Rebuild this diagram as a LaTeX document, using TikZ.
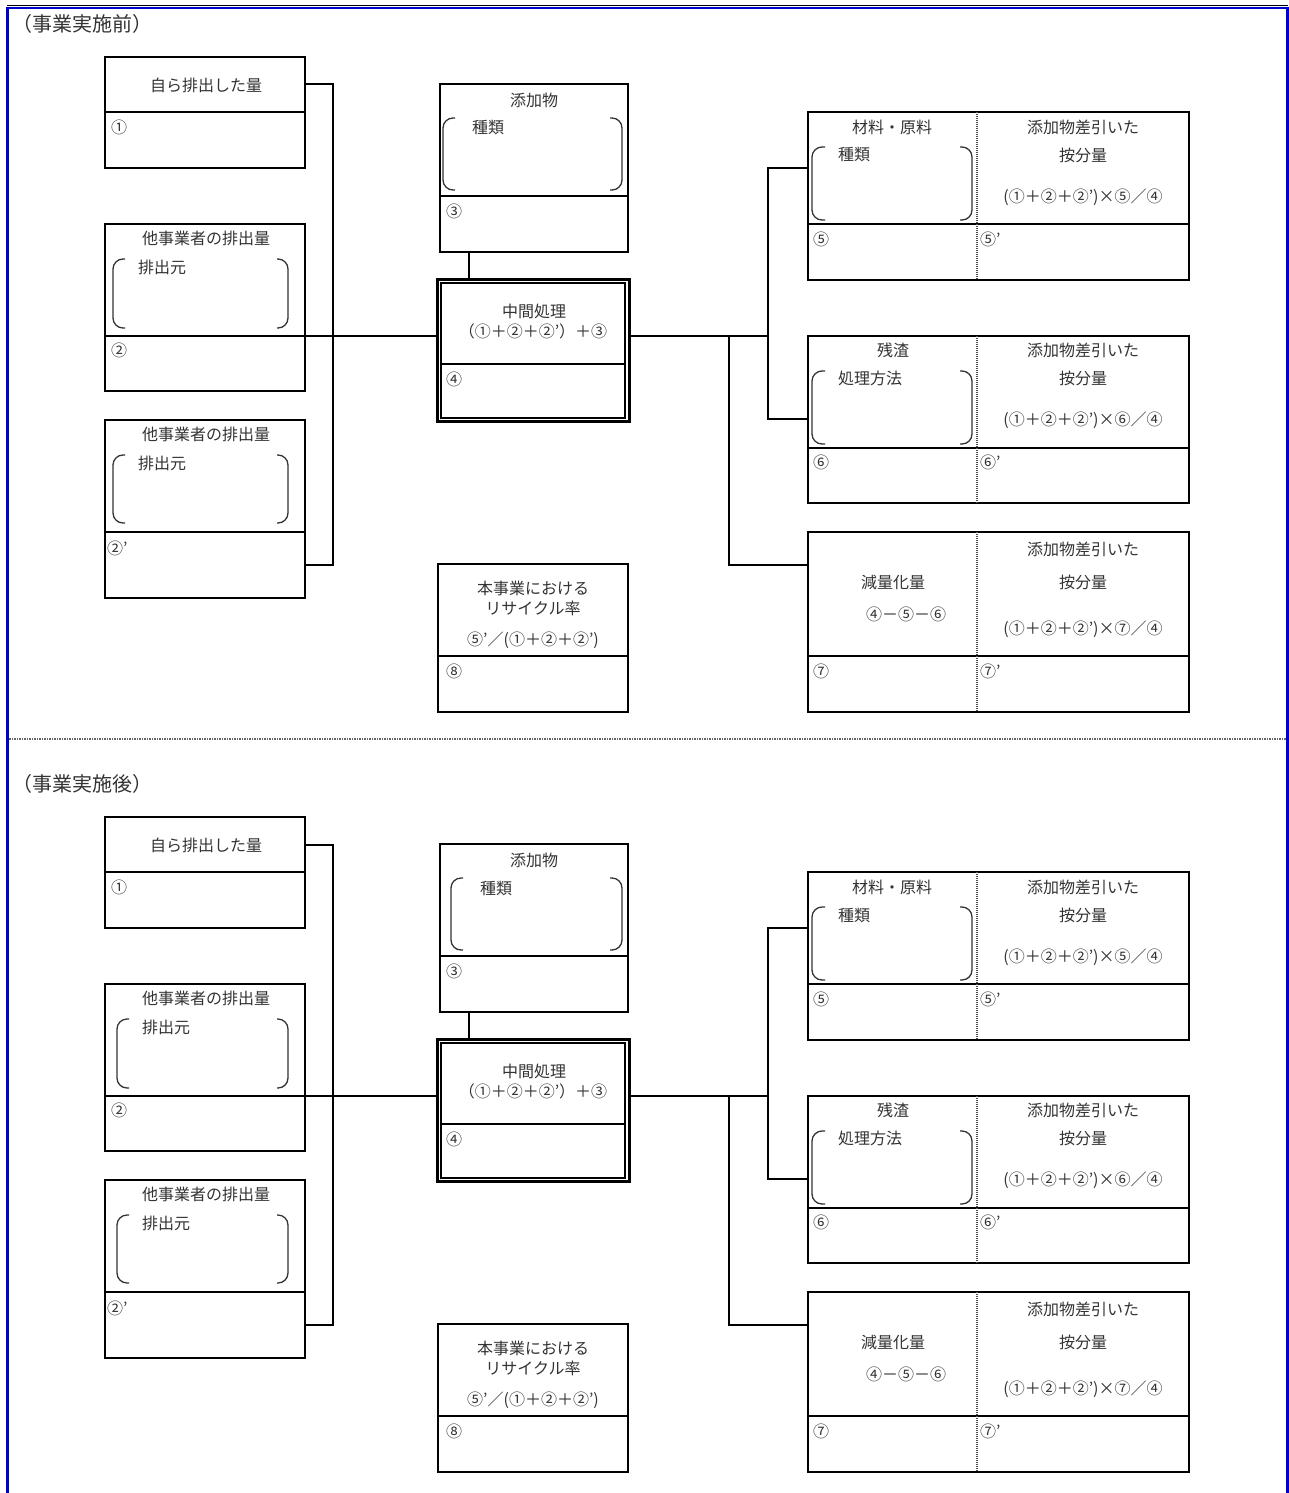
\documentclass[tikz,border=0pt]{standalone}
\usepackage{fontspec}
\newfontfamily\cjk{Noto Sans CJK JP}
\usetikzlibrary{calc}
\definecolor{frameblue}{RGB}{0,0,204}
\tikzset{
 cell/.style={draw=black, line width=2.2pt, anchor=north west, inner sep=0pt, outer sep=0pt},
 conn/.style={draw=black, line width=2pt},
 txt/.style={font=\cjk\fontsize{16}{18}\selectfont, inner sep=0pt, text=black!80},
 lbl/.style={txt, anchor=west},
 ttl/.style={font=\cjk\fontsize{20}{22}\selectfont, inner sep=0pt, text=black!80, anchor=west},
 brk/.style={draw=black!80, line width=1.3pt, rounded corners=10pt},
 vdots/.style={draw=black!70, line width=2pt, dash pattern=on 1pt off 1pt},
}
\newcommand\cellat[5]{\node[cell, minimum width=#4pt, minimum height=#5pt] (#1) at (#2,#3) {};}
% #1 suffix, #2 yshift, #3 title, #4 D bracket shift, #5 B/C bracket shift
\newcommand\drawsec[5]{%
\begin{scope}[yshift=#2pt]
\node[ttl] (title#1) at (12,24) {#3};
% left boxes
\cellat{A1#1}{105}{57}{200}{55}
\cellat{A2#1}{105}{112}{200}{56}
\cellat{B1#1}{105}{224}{200}{112}
\cellat{B2#1}{105}{336}{200}{55}
\cellat{C1#1}{105}{420}{200}{112}
\cellat{C2#1}{105}{532}{200}{66}
% additive
\cellat{D1#1}{440}{84}{188}{112}
\cellat{D2#1}{440}{196}{188}{56}
% intermediate processing (double border)
\node[cell, line width=3pt, minimum width=192pt, minimum height=142pt] (E#1) at (437,279) {};
\node[cell, line width=1.2pt, minimum width=184pt, minimum height=81pt] (E1#1) at (441,283) {};
\node[cell, line width=1.2pt, minimum width=184pt, minimum height=54pt] (E2#1) at (441,364) {};
% right boxes
\cellat{F1#1}{808}{112}{381}{112}
\cellat{F2#1}{808}{224}{381}{56}
\cellat{G1#1}{808}{336}{381}{112}
\cellat{G2#1}{808}{448}{381}{55}
\cellat{H1#1}{808}{532}{381}{124}
\cellat{H2#1}{808}{656}{381}{56}
% recycle rate
\cellat{I1#1}{438}{564}{190}{92}
\cellat{I2#1}{438}{656}{190}{56}
% dotted dividers
\draw[vdots] ([xshift=169pt]F1#1.north west) -- ([xshift=169pt]F2#1.south west);
\draw[vdots] ([xshift=169pt]G1#1.north west) -- ([xshift=169pt]G2#1.south west);
\draw[vdots] ([xshift=169pt]H1#1.north west) -- ([xshift=169pt]H2#1.south west);
% connectors
\coordinate (LJ#1) at (333,336);
\draw[conn] (A1#1.east) -| (LJ#1) |- (C2#1.east);
\draw[conn] (B1#1.south east) -- (B1#1.south east -| E#1.west);
\coordinate (DJ#1) at (469,252);
\draw[conn] (DJ#1) -- (DJ#1 |- E#1.north);
\coordinate (RJ#1) at (768,336);
\coordinate (SJ#1) at (729,336);
\coordinate (GJ#1) at (808,419);
\coordinate (HJ#1) at (808,565);
\draw[conn] (E#1.east |- RJ#1) -- (RJ#1);
\draw[conn] (F1#1.west) -| (RJ#1) |- (GJ#1);
\draw[conn] (SJ#1) |- (HJ#1);
% brackets
\draw[brk] (125+#5,259) -| (113+#5,328) -- (125+#5,328);
\draw[brk] (277,259) -| (288,328) -- (277,328);
\draw[brk] (125+#5,455) -| (113+#5,523) -- (125+#5,523);
\draw[brk] (277,455) -| (288,523) -- (277,523);
\draw[brk] (455+#4,118) -| (443+#4,190) -- (455+#4,190);
\draw[brk] (610,118) -| (622,190) -- (610,190);
\draw[brk] (825,147) -| (812,220) -- (825,220);
\draw[brk] (960,147) -| (972,220) -- (960,220);
\draw[brk] (825,371) -| (812,444) -- (825,444);
\draw[brk] (960,371) -| (972,444) -- (960,444);
% texts left
\node[txt] (tA#1) at (206,85) {自ら排出した量};
\node[lbl] (nA#1) at (111,127) {①};
\node[txt] (tB#1) at (206,238) {他事業者の排出量};
\node[lbl] (sB#1) at (138+#5,267) {排出元};
\node[lbl] (nB#1) at (111,350) {②};
\node[txt] (tC#1) at (206,434) {他事業者の排出量};
\node[lbl] (sC#1) at (138+#5,463) {排出元};
\node[lbl] (nC#1) at (107,548) {②’};
% texts center
\node[txt] (tD#1) at (534,100) {添加物};
\node[lbl] (sD#1) at (472+#4,128) {種類};
\node[lbl] (nD#1) at (446,211) {③};
\node[txt] (tE#1) at (534,311) {中間処理};
\node[txt] (fE#1) at (533,331) {（①＋②＋②’）＋③};
\node[lbl] (nE#1) at (446,379) {④};
\node[txt] (tI#1) at (533,588) {本事業における};
\node[txt] (uI#1) at (533,608) {リサイクル率};
\node[txt] (fI#1) at (533,640) {⑤’／(①＋②＋②’)};
\node[lbl] (nI#1) at (446,671) {⑧};
% texts right
\node[txt] (tF#1) at (892,127) {材料・原料};
\node[lbl] (sF#1) at (838,155) {種類};
\node[txt] (aF#1) at (1083,127) {添加物差引いた};
\node[txt] (bF#1) at (1083,155) {按分量};
\node[txt] (fF#1) at (1083,197) {(①＋②＋②’)×⑤／④};
\node[lbl] (nF#1) at (813,239) {⑤};
\node[lbl] (mF#1) at (980,239) {⑤’};
\node[txt] (tG#1) at (893,350) {残渣};
\node[lbl] (sG#1) at (838,378) {処理方法};
\node[txt] (aG#1) at (1083,350) {添加物差引いた};
\node[txt] (bG#1) at (1083,378) {按分量};
\node[txt] (fG#1) at (1083,420) {(①＋②＋②’)×⑥／④};
\node[lbl] (nG#1) at (813,462) {⑥};
\node[lbl] (mG#1) at (980,462) {⑥’};
\node[txt] (tH#1) at (893,582) {減量化量};
\node[txt] (sH#1) at (906,614) {④－⑤－⑥};
\node[txt] (aH#1) at (1083,549) {添加物差引いた};
\node[txt] (bH#1) at (1083,582) {按分量};
\node[txt] (fH#1) at (1083,629) {(①＋②＋②’)×⑦／④};
\node[lbl] (nH#1) at (813,671) {⑦};
\node[lbl] (mH#1) at (980,671) {⑦’};
\end{scope}}
\begin{document}
\begin{tikzpicture}[x=1pt,y=-1pt]
\useasboundingbox (0,0) rectangle (1289,1493);
\fill[white] (0,0) rectangle (1289,1493);
\draw[black, line width=1.5pt] (7,5.5) -- (1288,5.5);
\draw[frameblue, line width=2.5pt] (7.5,1493) -- (7.5,8) -- (1287.5,8) -- (1287.5,1493);
\draw[black!60, line width=1.5pt, dash pattern=on 1.5pt off 1pt] (9,739) -- (1286,739);
\drawsec{a}{0}{（事業実施前）}{0}{0}
\drawsec{b}{-760}{（事業実施後）}{8}{4}
\end{tikzpicture}
\end{document}
